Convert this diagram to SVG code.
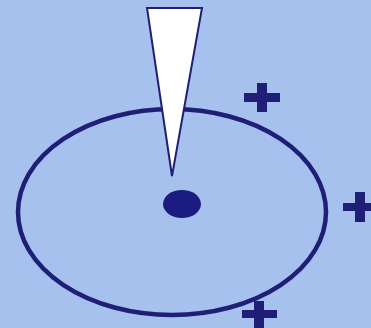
<svg xmlns="http://www.w3.org/2000/svg" width="371" height="328" viewBox="0 0 371 328">
<style>
.plus{fill:#1f1f78}
.navy{stroke:#1f1f78}
</style>
<rect width="371" height="328" fill="#a7c1ee"/>
<g id="orbit"><ellipse cx="172" cy="212" rx="154" ry="103" fill="none" class="navy" stroke-width="4.5"/></g>
<g id="nucleus"><ellipse cx="182" cy="204" rx="19" ry="14" fill="#1c1c80"/></g>
<g id="tip"><polygon points="147,8 202,8 172,176" fill="#ffffff" class="navy" stroke-width="2" stroke-linejoin="miter"/></g>
<g id="plus1"><rect x="244" y="93" width="36" height="9" class="plus"/><rect x="257" y="83" width="10" height="29" class="plus"/></g>
<g id="plus2"><rect x="343" y="203" width="30" height="8" class="plus"/><rect x="355" y="192" width="10" height="30" class="plus"/></g>
<g id="plus3"><rect x="242" y="310" width="35" height="8" class="plus"/><rect x="254" y="301" width="10" height="30" class="plus"/></g>
</svg>
